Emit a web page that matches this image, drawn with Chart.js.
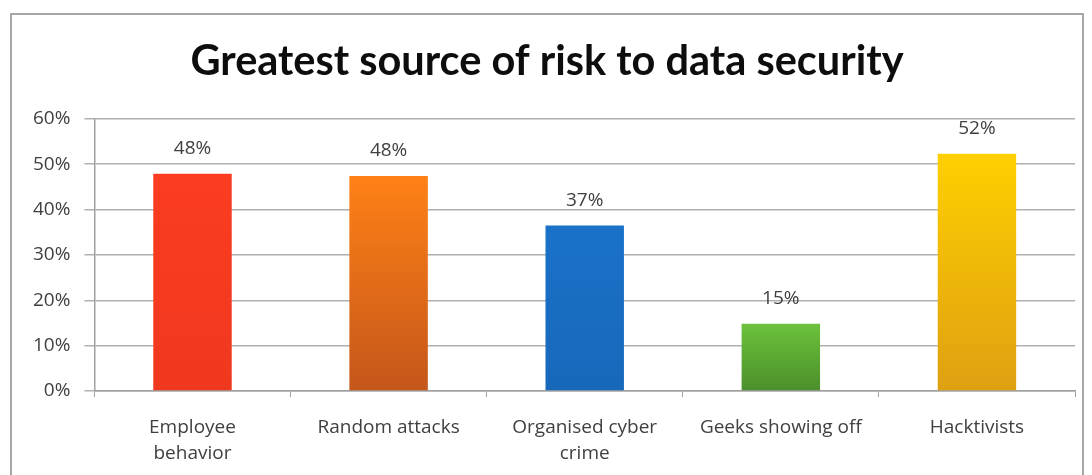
<!DOCTYPE html>
<html>
<head>
<meta charset="utf-8">
<script src="https://cdn.jsdelivr.net/npm/chart.js@4/dist/chart.umd.min.js"></script>
<style>
  html, body { margin: 0; padding: 0; background: #fff; }
  #wrap { width: 1092px; height: 475px; }
</style>
</head>
<body>
<div id="wrap"><canvas id="riskChart" width="1092" height="475"></canvas></div>
<script>
// values
const categories = [['Employee', 'behavior'], 'Random attacks', ['Organised cyber', 'crime'], 'Geeks showing off', 'Hacktivists'];
const shares = [0.479, 0.474, 0.365, 0.148, 0.523];
const shareLabels = ['48%', '48%', '37%', '15%', '52%'];
const yTicks = [0, 0.1, 0.2, 0.3, 0.4, 0.5, 0.6];

// top / bottom colour for each bar
const topColours = ['#fb3c20', '#ff8116', '#1a72c9', '#6cc23b', '#ffcf00'];
const bottomColours = ['#f0381f', '#c4561a', '#1768bb', '#4b8f2b', '#dea012'];

const TITLE_FONT = 'Lato, "Open Sans", sans-serif';
const FONT = '"Open Sans", Lato, sans-serif';

// grey frame round the chart, like the screenshot
const framePlugin = {
  id: 'frame',
  beforeDraw(chart) {
    const ctx = chart.ctx;
    ctx.save();
    ctx.strokeStyle = '#a6a6a6';
    ctx.lineWidth = 2;
    ctx.beginPath();
    ctx.moveTo(11, 480);
    ctx.lineTo(11, 14);
    ctx.lineTo(1083, 14);
    ctx.lineTo(1083, 480);
    ctx.stroke();
    ctx.restore();
  }
};

// percentage above each bar
const valuePlugin = {
  id: 'values',
  afterDatasetsDraw(chart) {
    const ctx = chart.ctx;
    const meta = chart.getDatasetMeta(0);
    ctx.save();
    ctx.font = '19px ' + FONT;
    ctx.fillStyle = '#404040';
    ctx.textAlign = 'center';
    ctx.textBaseline = 'middle';
    meta.data.forEach((bar, i) => {
      ctx.fillText(shareLabels[i], bar.x, bar.y - 25);
    });
    ctx.restore();
  }
};

function barFill(context) {
  const chart = context.chart;
  const area = chart.chartArea;
  if (!area) return topColours[context.dataIndex];
  const i = context.dataIndex;
  const top = chart.scales.y.getPixelForValue(shares[i]);
  const g = chart.ctx.createLinearGradient(0, top, 0, area.bottom);
  g.addColorStop(0, topColours[i]);
  g.addColorStop(1, bottomColours[i]);
  return g;
}

new Chart('riskChart', {
  type: 'bar',
  data: {
    labels: categories,
    datasets: [{
      data: shares,
      backgroundColor: barFill,
      borderWidth: 0,
      barPercentage: 0.4,
      categoryPercentage: 1
    }]
  },
  plugins: [framePlugin, valuePlugin],
  options: {
    responsive: false,
    animation: false,
    layout: { padding: { left: 19, right: 17, top: 0, bottom: 8 } },
    plugins: {
      legend: { display: false },
      tooltip: { enabled: false },
      title: {
        display: true,
        text: 'Greatest source of risk to data security',
        color: '#0d0d0d',
        font: { family: TITLE_FONT, size: 41.5, weight: 'bold' },
        padding: { top: 37, bottom: 32 }
      }
    },
    scales: {
      x: {
        afterFit(scale) { scale.height = 76; },
        grid: {
          offset: true,
          drawOnChartArea: false,
          drawTicks: true,
          tickLength: 6,
          color: '#a0a0a0'
        },
        border: { color: '#a0a0a0', width: 1.5 },
        ticks: {
          color: '#404040',
          font: { family: FONT, size: 19, lineHeight: 1.4 },
          padding: 17,
          maxRotation: 0
        }
      },
      y: {
        min: 0,
        max: 0.6,
        afterBuildTicks(axis) {
          axis.ticks = yTicks.map(v => ({ value: v }));
        },
        grid: {
          color: '#b0b0b0',
          lineWidth: 1.5,
          tickLength: 10
        },
        border: { color: '#a0a0a0', width: 1.5 },
        ticks: {
          color: '#404040',
          font: { family: FONT, size: 19 },
          padding: 14,
          callback: v => Math.round(v * 100) + '%'
        }
      }
    }
  }
});
</script>
</body>
</html>
